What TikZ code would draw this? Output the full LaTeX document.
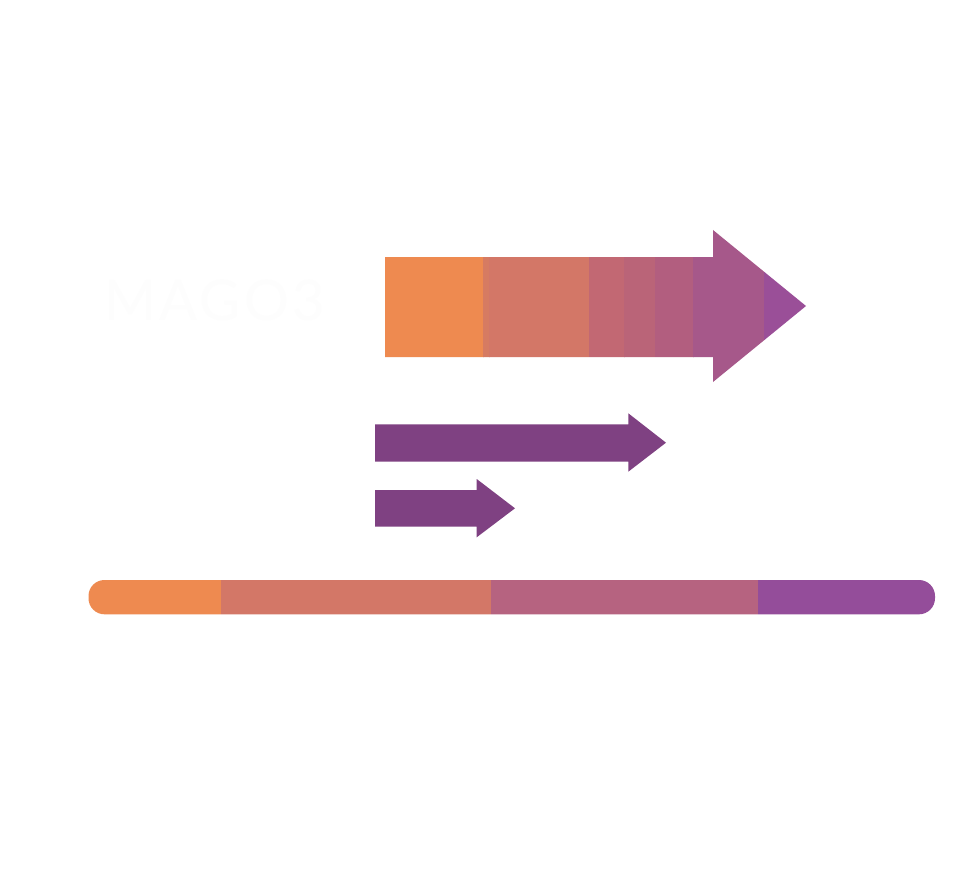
\documentclass[tikz,border=0pt]{standalone}
\usepackage{fontspec}
\newfontfamily\logofont[LetterSpace=6]{Lato}
\definecolor{cOrange}{HTML}{EE8A50}
\definecolor{cCoral}{HTML}{D37767}
\definecolor{cStripe}{HTML}{D67B62}
\definecolor{cRoseA}{HTML}{C26873}
\definecolor{cRoseB}{HTML}{BA6478}
\definecolor{cRoseC}{HTML}{B25E7F}
\definecolor{cMauve}{HTML}{A6588A}
\definecolor{cViolet}{HTML}{9A4F98}
\definecolor{cPurple}{HTML}{7F4182}
\definecolor{cBarRose}{HTML}{B66380}
\definecolor{cBarViolet}{HTML}{944D9A}
\definecolor{cLogo}{HTML}{FDFDFD}
\tikzset{
  seg/.style={draw=none},
}
\begin{document}
\begin{tikzpicture}[x=1pt,y=-1pt]
\useasboundingbox[fill=white] (0,0) rectangle (962,880);
% logo text (nearly white)
\node[anchor=west,inner sep=0pt,text=cLogo,font=\logofont\fontsize{56}{56}\selectfont] (logo) at (104,300) {MAGO3};
% big gradient arrow, clipped to arrow outline
\begin{scope}
\clip (385,257) -- (713,257) -- (713,230) -- (806,306) -- (713,382) -- (713,357) -- (385,357) -- cycle;
\fill[cOrange] (385,220) rectangle (483.5,390);
\fill[cStripe] (483.3,220) rectangle (489.5,390);
\fill[cCoral] (489.3,220) rectangle (589.3,390);
\fill[cRoseA] (589,220) rectangle (624.5,390);
\fill[cRoseB] (624.3,220) rectangle (655.3,390);
\fill[cRoseC] (655,220) rectangle (693.5,390);
\fill[cMauve] (693.3,220) rectangle (764.5,390);
\fill[cViolet] (764.3,220) rectangle (810,390);
\end{scope}
% purple arrows
\fill[cPurple] (375,424.3) -- (628.3,424.3) -- (628.3,413.3) -- (666,442.7) -- (628.3,471.7) -- (628.3,461.7) -- (375,461.7) -- cycle;
\fill[cPurple] (375,490) -- (476.7,490) -- (476.7,479) -- (515,508.3) -- (476.7,537.3) -- (476.7,526.7) -- (375,526.7) -- cycle;
% segmented bar
\begin{scope}
\clip[rounded corners=16pt] (88.5,580) rectangle (935,614.3);
\fill[cOrange] (80,575) rectangle (221.3,620);
\fill[cCoral] (221,575) rectangle (491.3,620);
\fill[cBarRose] (491,575) rectangle (758.3,620);
\fill[cBarViolet] (758,575) rectangle (940,620);
\end{scope}
\end{tikzpicture}
\end{document}
